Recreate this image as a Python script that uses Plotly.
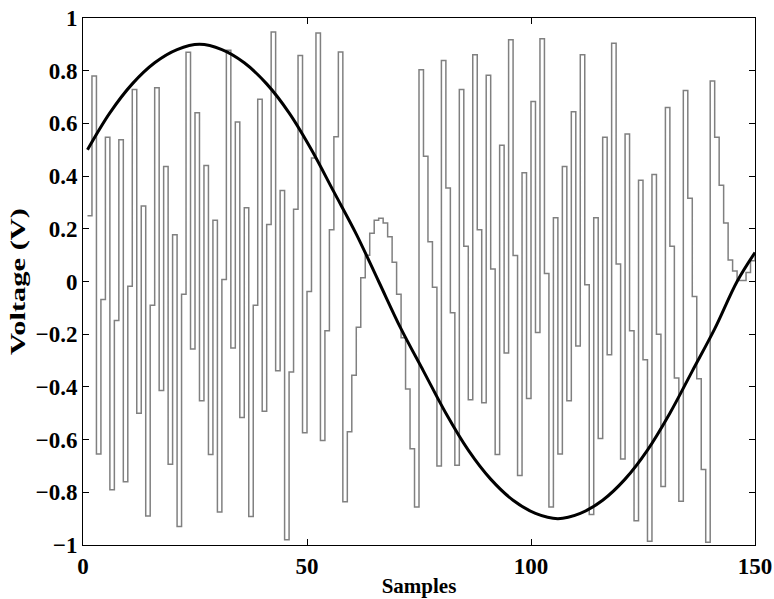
import plotly.graph_objects as go

samples = list(range(1, 151))
voltage_samples = [
    0.25, 0.78, -0.655, -0.068, 0.547, -0.79, -0.148, 0.538, -0.76, -0.018,
    0.729, -0.50, 0.287, -0.89, -0.09, 0.735, -0.414, 0.436, -0.694, 0.177,
    -0.93, -0.048, 0.87, -0.256, 0.64, -0.453, 0.44, -0.657, 0.232, -0.875,
    0.008, 0.878, -0.252, 0.605, -0.516, 0.28, -0.892, -0.09, 0.692, -0.492,
    0.216, 0.947, -0.339, 0.345, -0.98, -0.343, 0.274, 0.858, -0.574, -0.038,
    0.469, 0.943, -0.603, -0.187, 0.196, 0.549, 0.871, -0.836, -0.57, -0.356,
    -0.174, 0.014, 0.10, 0.183, 0.232, 0.24, 0.222, 0.17, 0.073, -0.048,
    -0.213, -0.408, -0.635, -0.856, 0.804, 0.475, 0.151, -0.022, -0.70, 0.839,
    0.355, -0.119, -0.697, 0.729, 0.134, -0.449, 0.861, 0.196, -0.46, 0.783,
    0.047, -0.657, 0.517, -0.271, 0.917, 0.099, -0.736, 0.413, -0.444, 0.683,
    -0.194, 0.921, 0.03, -0.856, 0.242, -0.655, 0.436, -0.453, 0.644, -0.245,
    0.861, -0.012, -0.884, 0.242, -0.596, 0.547, -0.278, 0.904, 0.066, -0.674,
    0.56, -0.187, -0.908, 0.384, -0.297, -0.986, 0.406, -0.2, -0.778, 0.66,
    0.134, -0.366, -0.834, 0.725, 0.316, -0.057, -0.369, -0.713, -0.99, 0.761,
    0.547, 0.365, 0.222, 0.082, 0.04, 0.004, 0.004, 0.034, 0.079, 0.10,
]

curve_x = [1, 6, 11, 16, 21, 26, 31, 36, 41, 46, 51, 56, 61, 66, 71, 76, 81, 86,
           91, 96, 101, 106, 111, 116, 121, 126, 131, 136, 141, 146, 150]
curve_y = [0.50, 0.64, 0.75, 0.83, 0.88, 0.90, 0.88, 0.83, 0.75, 0.64, 0.50, 0.34,
           0.18, 0.00, -0.18, -0.34, -0.50, -0.64, -0.75, -0.83, -0.88, -0.90, -0.88,
           -0.83, -0.75, -0.64, -0.50, -0.34, -0.18, 0.00, 0.11]

x_ticks = [0, 50, 100, 150]
y_ticks = [-1, -0.8, -0.6, -0.4, -0.2, 0, 0.2, 0.4, 0.6, 0.8, 1]
y_tick_text = ["\u22121", "\u22120.8", "\u22120.6", "\u22120.4", "\u22120.2", "0",
               "0.2", "0.4", "0.6", "0.8", "1"]

font_family = "Liberation Serif, Times New Roman, serif"

fig = go.Figure()
fig.add_trace(go.Scatter(
    x=samples, y=voltage_samples, mode="lines", line_shape="hv",
    line=dict(color="rgb(128,128,128)", width=1.5), showlegend=False,
))
fig.add_trace(go.Scatter(
    x=curve_x, y=curve_y, mode="lines", line_shape="spline",
    line=dict(color="black", width=3), showlegend=False,
))

axis_common = dict(
    showline=True, linecolor="black", linewidth=1, mirror="ticks",
    ticks="inside", ticklen=6, tickwidth=1, tickcolor="black",
    showgrid=False, zeroline=False, automargin=False,
    tickfont=dict(family=font_family, size=23, color="black", weight="bold"),
)

fig.update_layout(
    width=774, height=599,
    margin=dict(l=83, r=19, t=18, b=54),
    paper_bgcolor="white", plot_bgcolor="white",
    xaxis=dict(range=[0, 150], tickvals=x_ticks,
               title=dict(text="<b>Samples</b>", standoff=0,
                          font=dict(family=font_family, size=21, color="black")),
               **axis_common),
    yaxis=dict(range=[-1, 1], tickvals=y_ticks, ticktext=y_tick_text,
               title=dict(text="<b>Voltage (V)</b>", standoff=4,
                          font=dict(family=font_family, size=21, color="black")),
               **axis_common),
)

post_js = """
document.body.style.margin = '0';
var gd = document.getElementById('{plot_id}');
function stretchYTitle() {
  var t = gd.querySelector('.g-ytitle text');
  if (!t) return;
  if (t.getAttribute('data-base-tr') === null) {
    t.setAttribute('data-base-tr', t.getAttribute('transform') || '');
  }
  var base = t.getAttribute('data-base-tr');
  t.setAttribute('transform', base);
  var bb = t.getBBox();
  var cx = bb.x + bb.width / 2, cy = bb.y + bb.height / 2;
  t.setAttribute('transform', base + ' translate(' + cx + ',' + cy + ') scale(1.45,1) translate(' + (-cx) + ',' + (-cy) + ')');
}
stretchYTitle();
if (gd.on) { gd.on('plotly_afterplot', function () { stretchYTitle(); }); }
"""

fig.write_html("out.html", post_script=post_js,
               config={"displayModeBar": False, "staticPlot": True})
